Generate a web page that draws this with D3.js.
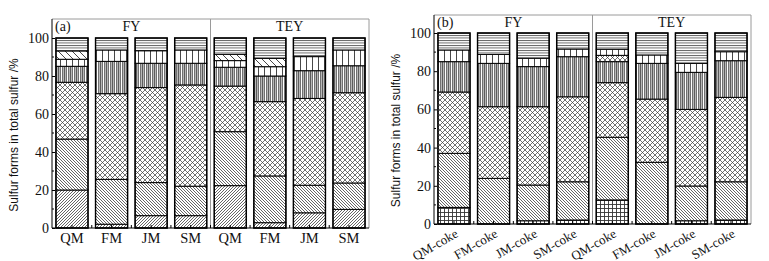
<!DOCTYPE html>
<html>
<head>
<meta charset="utf-8">
<script src="https://cdn.jsdelivr.net/npm/d3@7"></script>
<style>
	body { margin: 0; background: #fff; }
	svg { display: block; }
	.tick-label { font-family: "Liberation Serif", "Times New Roman", serif; font-size: 14px; fill: #111; }
	.cat-label { font-family: "Liberation Serif", "Times New Roman", serif; font-size: 14.5px; fill: #111; }
	.panel-title { font-family: "Liberation Serif", "Times New Roman", serif; font-size: 14px; fill: #111; }
	.y-title { font-family: "Liberation Sans", Arial, sans-serif; font-size: 12px; fill: #111; }
</style>
</head>
<body>
<svg id="chart"></svg>
<script>
const width = 769;
const height = 261;

// ---- data (percent of total sulfur, bottom to top) ----
const groups = ["FY", "TEY"];
const coalLabels = ["QM", "FM", "JM", "SM"];
const cokeLabels = ["QM-coke", "FM-coke", "JM-coke", "SM-coke"];

// panel (a): 4 coals under FY, then same 4 under TEY
const aDiagFine = [20, 2, 6.5, 6.5, 22.3, 2.8, 8, 9.8];
const aDiagDense = [26.8, 23.6, 17.4, 15.5, 28.4, 24.6, 14.5, 13.9];
const aCross = [29.9, 45.1, 50, 53.3, 24, 39.1, 45.7, 47.5];
const aVertDense = [8.4, 17, 12.8, 11.4, 9.9, 13.5, 14.6, 14.2];
const aVertSparse = [3.7, 6, 6.6, 7, 3.5, 4.9, 7.4, 8.3];
const aDiagWide = [4.4, 0, 0, 0, 3.3, 4.4, 0, 0];
const aHoriz = [6.8, 6.3, 6.7, 6.3, 8.6, 10.7, 9.8, 6.3];

// panel (b): cokes
const bGrid = [8.7, 0, 1.7, 2.1, 12.6, 0, 1.7, 2.1];
const bDiagDense = [28.3, 23.9, 18.7, 20, 32.8, 32.3, 18.2, 20];
const bCross = [32.1, 37.5, 41, 44.5, 28.6, 33.1, 40.1, 44.2];
const bVertDense = [15.9, 22.7, 21, 21, 11, 18.7, 19.4, 19.2];
const bCrossSmall = [0, 0, 0, 0, 3.3, 0, 0, 0];
const bVertSparse = [6.1, 4.7, 4.4, 4, 3.2, 4.4, 4.7, 4.7];
const bHoriz = [8.9, 11.2, 13.2, 8.4, 8.5, 11.5, 15.9, 9.8];

const yTicks = [0, 20, 40, 60, 80, 100];

const svg = d3.select("#chart")
	.attr("width", width)
	.attr("height", height);

// ---- hatch patterns ----
const defs = svg.append("defs");

function addPattern(id, w, h, draw) {
	const p = defs.append("pattern")
		.attr("id", id)
		.attr("patternUnits", "userSpaceOnUse")
		.attr("width", w)
		.attr("height", h);
	p.append("rect").attr("width", w).attr("height", h).attr("fill", "#fff");
	draw(p);
}

const ink = "#333";

addPattern("diagFine", 3, 3, (p) => {
	p.append("path").attr("d", "M-1,1 L1,-1 M0,3 L3,0 M2,4 L4,2")
		.attr("stroke", ink).attr("stroke-width", 0.75);
});
addPattern("diagDense", 3, 3, (p) => {
	p.append("path").attr("d", "M-1,2 L1,4 M0,0 L3,3 M2,-1 L4,1")
		.attr("stroke", ink).attr("stroke-width", 0.75);
});
addPattern("cross", 5, 5, (p) => {
	p.append("path").attr("d", "M0,0 L5,5 M5,0 L0,5")
		.attr("stroke", ink).attr("stroke-width", 0.7);
});
addPattern("vertDense", 6, 6, (p) => {
	p.append("rect").attr("x", 3).attr("width", 3).attr("height", 6).attr("fill", "#b8b8b8");
	p.append("path").attr("d", "M0.5,0 V6 M2.5,0 V6 M4.5,0 V6")
		.attr("stroke", ink).attr("stroke-width", 0.7);
});
addPattern("vertSparse", 6, 6, (p) => {
	p.append("path").attr("d", "M0.5,0 V6")
		.attr("stroke", ink).attr("stroke-width", 0.9);
});
addPattern("diagWide", 7, 7, (p) => {
	p.append("path").attr("d", "M-1,6 L1,8 M0,0 L7,7 M6,-1 L8,1")
		.attr("stroke", ink).attr("stroke-width", 0.9);
});
addPattern("horiz", 6, 2.5, (p) => {
	p.append("path").attr("d", "M0,0.5 H6")
		.attr("stroke", ink).attr("stroke-width", 0.8);
});
addPattern("grid", 4, 4, (p) => {
	p.append("path").attr("d", "M0.5,0 V4 M0,0.5 H4")
		.attr("stroke", ink).attr("stroke-width", 0.9);
});

// ---- panel drawing ----
function drawPanel(cfg) {
	const g = svg.append("g");
	const keys = [];
	groups.forEach((grp) => cfg.labels.forEach((l) => keys.push(grp + "|" + l)));

	const x = d3.scaleBand()
		.domain(keys)
		.range([cfg.left, cfg.right])
		.paddingInner(0.19)
		.paddingOuter(0.1);

	const y = d3.scaleLinear()
		.domain([0, 100])
		.range([cfg.bottom, cfg.yTop]);

	// rows for the stack
	const rows = keys.map((k, i) => {
		const r = { key: k };
		cfg.series.forEach((s) => { r[s.name] = s.values[i]; });
		return r;
	});
	const stack = d3.stack().keys(cfg.series.map((s) => s.name));
	const layers = stack(rows);

	// frame (grey top/right/divider)
	const midX = (x(keys[3]) + x.bandwidth() + x(keys[4])) / 2;
	g.append("path")
		.attr("d", `M${cfg.left},${cfg.top} H${cfg.right} V${cfg.bottom}`)
		.attr("fill", "none")
		.attr("stroke", "#9a9a9a")
		.attr("stroke-width", 1);
	g.append("line")
		.attr("x1", midX).attr("x2", midX)
		.attr("y1", cfg.top).attr("y2", cfg.bottom)
		.attr("stroke", "#9a9a9a")
		.attr("stroke-width", 1);

	// segments
	layers.forEach((layer, li) => {
		g.append("g")
			.selectAll("rect")
			.data(layer.filter((d) => d[1] - d[0] > 0))
			.join("rect")
			.attr("x", (d) => x(d.data.key))
			.attr("width", x.bandwidth())
			.attr("y", (d) => y(d[1]))
			.attr("height", (d) => y(d[0]) - y(d[1]))
			.attr("fill", `url(#${cfg.series[li].pattern})`)
			.attr("stroke", "#000")
			.attr("stroke-width", 1);
	});

	// bar outlines
	g.append("g")
		.selectAll("rect")
		.data(keys)
		.join("rect")
		.attr("x", (k) => x(k))
		.attr("width", x.bandwidth())
		.attr("y", y(100))
		.attr("height", y(0) - y(100))
		.attr("fill", "none")
		.attr("stroke", "#000")
		.attr("stroke-width", 1.4);

	// y axis
	const yAxis = g.append("g")
		.attr("transform", `translate(${cfg.left},0)`)
		.call(d3.axisLeft(y).tickValues(yTicks).tickSizeInner(-3).tickSizeOuter(0).tickPadding(3));
	yAxis.select(".domain")
		.attr("d", `M0,${cfg.top} V${cfg.bottom}`)
		.attr("stroke", "#000");
	yAxis.selectAll(".tick text").attr("class", "tick-label").attr("font-family", null).attr("font-size", null);
	// minor ticks
	g.append("g")
		.selectAll("line")
		.data(d3.range(10, 100, 20))
		.join("line")
		.attr("x1", cfg.left).attr("x2", cfg.left + 2)
		.attr("y1", (d) => y(d)).attr("y2", (d) => y(d))
		.attr("stroke", "#000");

	// x axis line + ticks
	g.append("line")
		.attr("x1", cfg.left).attr("x2", cfg.right)
		.attr("y1", cfg.bottom).attr("y2", cfg.bottom)
		.attr("stroke", "#000");
	const boundaries = keys.slice(1).map((k) => x(k) - (x.step() - x.bandwidth()) / 2);
	g.append("g")
		.selectAll("line")
		.data(boundaries)
		.join("line")
		.attr("x1", (d) => d).attr("x2", (d) => d)
		.attr("y1", cfg.bottom).attr("y2", cfg.bottom - 3)
		.attr("stroke", "#000");
	g.append("g")
		.selectAll("line")
		.data(keys)
		.join("line")
		.attr("x1", (k) => x(k) + x.bandwidth() / 2)
		.attr("x2", (k) => x(k) + x.bandwidth() / 2)
		.attr("y1", cfg.bottom).attr("y2", cfg.bottom - 3)
		.attr("stroke", "#000");

	// category labels
	const labels = g.append("g")
		.selectAll("text")
		.data(keys)
		.join("text")
		.attr("class", "cat-label")
		.text((k) => k.split("|")[1]);
	if (cfg.rotate) {
		labels
			.attr("text-anchor", "end")
			.style("font-size", "13px")
			.attr("transform", (k) => `translate(${x(k) + x.bandwidth() / 2 + 5},${cfg.bottom + 12}) rotate(-30)`);
	} else {
		labels
			.attr("text-anchor", "middle")
			.attr("x", (k) => x(k) + x.bandwidth() / 2)
			.attr("y", cfg.bottom + 15);
	}

	// titles
	g.append("text")
		.attr("class", "panel-title")
		.attr("x", cfg.left + 3)
		.attr("y", cfg.top + 12)
		.text(cfg.tag);
	[[keys[0], keys[3]], [keys[4], keys[7]]].forEach(([a, b], i) => {
		g.append("text")
			.attr("class", "panel-title")
			.attr("text-anchor", "middle")
			.attr("x", (x(a) + x(b) + x.bandwidth()) / 2)
			.attr("y", cfg.top + 12)
			.text(groups[i]);
	});

	// y title
	g.append("text")
		.attr("class", "y-title")
		.attr("text-anchor", "middle")
		.attr("transform", `translate(${cfg.left - 34},${(y(0) + y(100)) / 2 + 2}) rotate(-90)`)
		.text("Sulfur forms in total sulfur /%");
}

drawPanel({
	tag: "(a)",
	left: 52, right: 369, top: 19, yTop: 38, bottom: 228,
	labels: coalLabels,
	rotate: false,
	series: [
		{ name: "diagFine", values: aDiagFine, pattern: "diagFine" },
		{ name: "diagDense", values: aDiagDense, pattern: "diagDense" },
		{ name: "cross", values: aCross, pattern: "cross" },
		{ name: "vertDense", values: aVertDense, pattern: "vertDense" },
		{ name: "vertSparse", values: aVertSparse, pattern: "vertSparse" },
		{ name: "diagWide", values: aDiagWide, pattern: "diagWide" },
		{ name: "horiz", values: aHoriz, pattern: "horiz" }
	]
});

drawPanel({
	tag: "(b)",
	left: 434, right: 751, top: 15, yTop: 33, bottom: 224,
	labels: cokeLabels,
	rotate: true,
	series: [
		{ name: "grid", values: bGrid, pattern: "grid" },
		{ name: "diagDense", values: bDiagDense, pattern: "diagDense" },
		{ name: "cross", values: bCross, pattern: "cross" },
		{ name: "vertDense", values: bVertDense, pattern: "vertDense" },
		{ name: "crossSmall", values: bCrossSmall, pattern: "cross" },
		{ name: "vertSparse", values: bVertSparse, pattern: "vertSparse" },
		{ name: "horiz", values: bHoriz, pattern: "horiz" }
	]
});
</script>
</body>
</html>
